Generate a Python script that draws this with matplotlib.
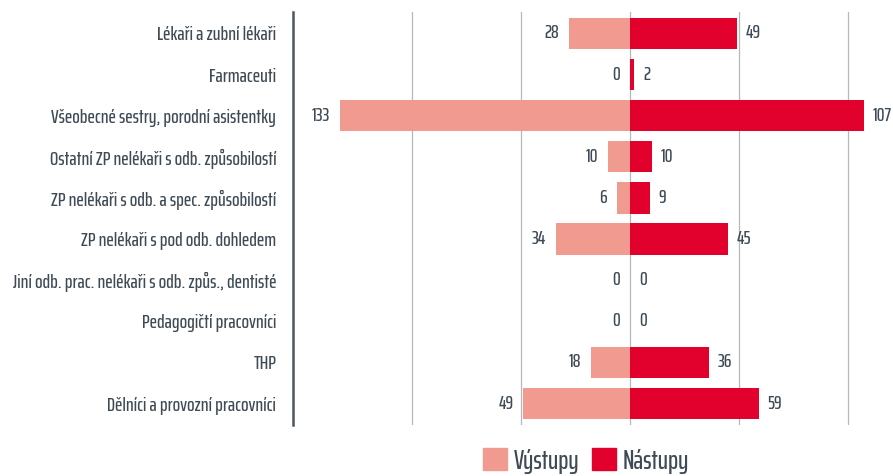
import matplotlib.pyplot as plt
import numpy as np
from matplotlib.patches import Patch

# ================= DATA =================
categories = [
    "Lékaři a zubní lékaři",
    "Farmaceuti",
    "Všeobecné sestry, porodní asistentky",
    "Ostatní ZP nelékaři s odb. způsobilostí",
    "ZP nelékaři s odb. a spec. způsobilostí",
    "ZP nelékaři s pod odb. dohledem",
    "Jiní odb. prac. nelékaři s odb. způs., dentisté",
    "Pedagogičtí pracovníci",
    "THP",
    "Dělníci a provozní pracovníci",
]
vystupy = [28, 0, 133, 10, 6, 34, 0, 0, 18, 49]
nastupy = [49, 2, 107, 10, 9, 45, 0, 0, 36, 59]
# ========================================

COL_OUT = "#f19a8f"
COL_IN = "#e2002d"
TXT = "#3e4a55"

plt.rcParams['font.family'] = ['Saira ExtraCondensed', 'DejaVu Sans']
plt.rcParams['font.weight'] = 'medium'

fig = plt.figure(figsize=(8.93, 4.76), dpi=100)
ax = fig.add_axes([293 / 893, 1 - 425 / 476, (893 - 293) / 893, (425 - 12) / 476])

y = np.arange(len(categories))
ax.barh(y, [-v for v in vystupy], height=0.76, color=COL_OUT, zorder=3)
ax.barh(y, nastupy, height=0.76, color=COL_IN, zorder=3)

for i, (o, n) in enumerate(zip(vystupy, nastupy)):
    ax.text(-o - 4.5, i, str(o), ha='right', va='center', fontsize=14, color=TXT)
    ax.text(n + 4, i, str(n), ha='left', va='center', fontsize=14, color=TXT)

ax.set_xlim(-154.5, 120.5)
ax.set_ylim(len(categories) - 0.48, -0.52)
ax.set_xticks([-100, -50, 0, 50, 100])
ax.set_xticklabels([])
ax.tick_params(axis='x', length=0)
ax.grid(axis='x', color='#b4b8bd', linewidth=0.9, zorder=0)

ax.set_yticks(y)
ax.set_yticklabels(categories, fontsize=14.2, color=TXT)
ax.tick_params(axis='y', length=0, pad=12)

for s in ['top', 'right', 'bottom']:
    ax.spines[s].set_visible(False)
ax.spines['left'].set_color('#4a5661')
ax.spines['left'].set_linewidth(1.8)

handles = [Patch(color=COL_OUT, label='Výstupy'), Patch(color=COL_IN, label='Nástupy')]
fig.legend(handles=handles, loc='center', bbox_to_anchor=(586 / 893, 1 - 461 / 476),
           ncol=2, frameon=False, fontsize=19, handlelength=0.9, handleheight=0.9,
           handletextpad=0.25, columnspacing=0.5, labelcolor=TXT, borderpad=0)

fig.savefig("out.png", dpi=100)
